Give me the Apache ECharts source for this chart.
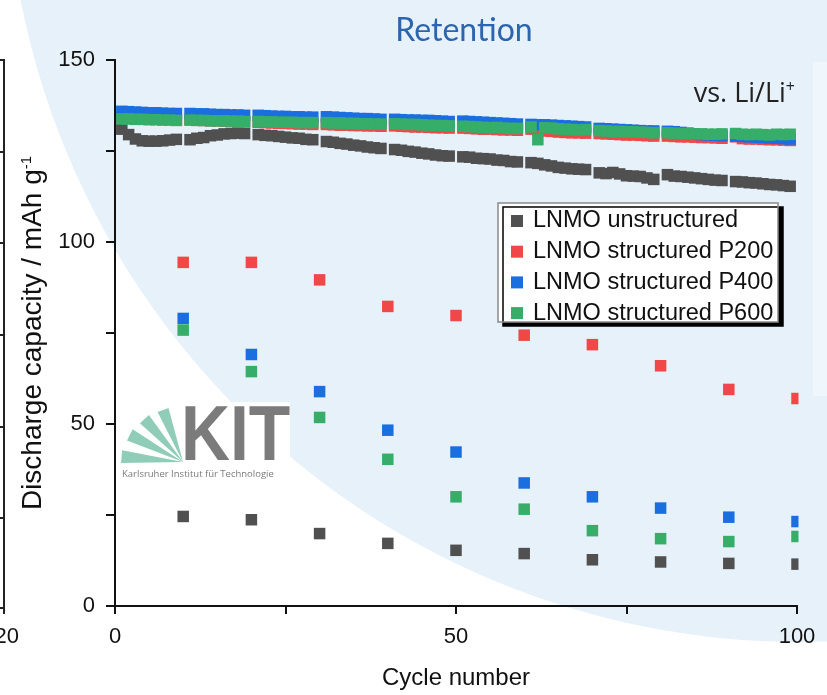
<!DOCTYPE html>
<html>
<head>
<meta charset="utf-8">
<script src="https://cdn.jsdelivr.net/npm/echarts@6/dist/echarts.min.js"></script>
<style>
html,body{margin:0;padding:0;background:#fff;}
#chart{width:827px;height:695px;}
</style>
</head>
<body>
<div id="chart"></div>
<script>
// ---- data (cycle 1..100; every 10th cycle is the high-rate step) ----
const cycles = Array.from({length: 100}, (_, i) => i + 1);

const unstructured = [
131.0,129.5,128.3,127.8,127.7,127.7,127.8,128.0,128.2,24.6,
128.1,128.5,128.7,129.2,129.4,129.7,129.8,129.9,129.8,23.7,
129.5,129.3,129.2,129.0,128.8,128.6,128.5,128.2,128.1,19.9,
127.6,127.4,127.1,126.9,126.6,126.4,126.1,125.9,125.7,17.2,
125.4,125.2,124.9,124.7,124.4,124.2,123.9,123.7,123.6,15.3,
123.4,123.3,123.0,122.9,122.8,122.5,122.4,122.1,122.0,14.4,
121.8,121.6,121.2,120.9,120.5,120.3,120.1,120.0,119.9,12.7,
119.0,118.8,119.1,118.7,118.2,118.1,118.0,117.6,117.2,12.1,
118.5,118.1,118.0,117.8,117.6,117.4,117.2,117.0,116.9,11.7,
116.6,116.5,116.3,116.2,116.0,115.8,115.7,115.5,115.3,11.5];

const p200 = [
134.2,134.1,134.0,134.0,133.9,133.8,133.8,133.7,133.6,94.4,
133.6,133.5,133.4,133.3,133.3,133.2,133.1,133.0,133.0,94.4,
132.9,132.8,132.7,132.6,132.6,132.5,132.4,132.4,132.3,89.6,
132.3,132.2,132.1,132.1,132.0,132.0,131.9,131.9,131.8,82.3,
131.9,131.8,131.7,131.6,131.6,131.5,131.4,131.4,131.3,79.8,
131.3,131.2,131.1,131.0,131.0,130.9,130.8,130.8,130.7,74.4,
131.0,130.6,130.5,130.4,130.2,130.1,130.0,130.0,129.9,71.8,
129.8,129.7,129.6,129.5,129.4,129.4,129.3,129.2,129.1,66.0,
129.1,129.0,128.9,128.9,128.8,128.7,128.7,128.6,128.5,59.5,
128.9,128.4,128.3,128.3,128.2,128.1,128.1,128.0,127.9,57.0];

const p400 = [
135.9,135.8,135.7,135.6,135.5,135.5,135.4,135.3,135.3,79.0,
135.3,135.2,135.2,135.1,135.0,135.0,134.9,134.9,134.8,69.1,
134.8,134.7,134.6,134.5,134.5,134.4,134.4,134.3,134.3,58.9,
134.4,134.3,134.2,134.1,134.0,133.9,133.9,133.8,133.7,48.3,
133.7,133.6,133.5,133.5,133.4,133.4,133.3,133.2,133.1,42.3,
133.2,133.1,133.0,132.9,132.8,132.7,132.6,132.5,132.4,33.8,
132.3,132.2,132.2,132.1,132.0,131.9,131.8,131.7,131.6,30.0,
131.2,131.1,131.0,130.9,130.8,130.7,130.6,130.5,130.5,26.9,
130.4,130.3,130.1,129.9,129.7,129.5,129.4,129.3,129.2,24.4,
129.1,129.0,128.9,128.8,128.7,128.6,128.5,128.4,128.3,23.2];

const p600 = [
133.8,133.8,133.7,133.7,133.6,133.6,133.5,133.5,133.4,75.8,
133.5,133.4,133.4,133.3,133.3,133.3,133.2,133.2,133.1,64.4,
133.1,133.0,133.0,132.9,132.9,132.9,132.8,132.8,132.8,51.8,
132.8,132.7,132.7,132.6,132.6,132.5,132.5,132.4,132.4,40.3,
132.5,132.4,132.3,132.3,132.2,132.1,132.0,132.0,131.9,30.0,
131.8,131.7,131.6,131.5,131.4,131.5,131.3,131.2,131.2,26.6,
131.6,128.1,131.4,131.3,131.1,131.0,130.9,130.8,130.9,20.7,
130.6,130.5,130.4,130.4,130.3,130.3,130.2,130.1,130.0,18.5,
130.0,129.9,129.8,129.8,129.7,129.7,129.6,129.6,129.7,17.7,
129.8,129.6,129.5,129.6,129.5,129.4,129.6,129.5,129.6,19.1];

const seriesNames = ['LNMO unstructured', 'LNMO structured P200', 'LNMO structured P400', 'LNMO structured P600'];
const seriesValues = [unstructured, p200, p400, p600];
const seriesColors = ['#505050', '#f04848', '#1a6ee0', '#36ad68'];
const xTickLabels = [0, 50, 100];
const yTickLabels = [0, 50, 100, 150];

// ---- chart ----
const chart = echarts.init(document.getElementById('chart'), null, {renderer: 'canvas'});
const AX = '#111';
const FONT = '"Liberation Sans", Arial, sans-serif';

function kitRays() {
  const ax = 183, ay = 462, els = [];
  const rays = [[169, 181, 62], [147, 159, 60], [126, 138, 58], [105, 117, 56]];
  rays.forEach(r => {
    const a1 = r[0] * Math.PI / 180, a2 = r[1] * Math.PI / 180, L = r[2];
    els.push({
      type: 'polygon', z: 1,
      shape: {points: [[ax, ay], [ax + L * Math.cos(a1), ay - L * Math.sin(a1)], [ax + L * Math.cos(a2), ay - L * Math.sin(a2)]]},
      style: {fill: '#8fcdb9'}
    });
  });
  return els;
}

const option = {
  backgroundColor: '#ffffff',
  animation: false,
  title: {
    text: 'Retention', left: 459, top: 10, textAlign: 'center',
    textStyle: {fontFamily: 'Lato, "Open Sans", sans-serif', fontSize: 32, fontWeight: 'normal', color: '#2c64ae'}
  },
  grid: {left: 115, right: 30, top: 60, bottom: 87, containLabel: false},
  legend: {
    orient: 'vertical', left: 511, top: 209, padding: 0,
    itemWidth: 12, itemHeight: 12, itemGap: 6.7, icon: 'rect',
    textStyle: {fontFamily: FONT, fontSize: 23.5, color: '#111', lineHeight: 22, padding: [0, 0, 0, 5]},
    data: seriesNames
  },
  xAxis: [{
    type: 'value', min: 0, max: 100, interval: 25, position: 'bottom',
    axisLine: {lineStyle: {color: AX, width: 2}},
    axisTick: {inside: false, length: 8, lineStyle: {color: AX, width: 2}},
    axisLabel: {margin: 20, fontFamily: FONT, fontSize: 22, color: '#111',
      formatter: v => xTickLabels.includes(v) ? String(v) : ''},
    splitLine: {show: false},
    name: 'Cycle number', nameLocation: 'middle', nameGap: 60,
    nameTextStyle: {fontFamily: FONT, fontSize: 24, color: '#111'}
  }, {
    type: 'value', min: 0, max: 100, interval: 25, position: 'top',
    axisLine: {lineStyle: {color: AX, width: 2}},
    axisTick: {inside: true, length: 8, lineStyle: {color: AX, width: 2}},
    axisLabel: {show: false}, splitLine: {show: false}
  }],
  yAxis: [{
    type: 'value', min: 0, max: 150, interval: 25, position: 'left',
    axisLine: {lineStyle: {color: AX, width: 2}},
    axisTick: {inside: false, length: 9, lineStyle: {color: AX, width: 2}},
    axisLabel: {margin: 20, fontFamily: FONT, fontSize: 22, color: '#111',
      formatter: v => yTickLabels.includes(v) ? String(v) : ''},
    splitLine: {show: false},
    name: 'Discharge capacity / mAh g{sup|-1}', nameLocation: 'middle', nameGap: 62,
    nameTextStyle: {fontFamily: FONT, fontSize: 28, color: '#111',
      rich: {sup: {fontFamily: FONT, fontSize: 15, color: '#111', padding: [0, 0, 14, 0]}}}
  }, {
    type: 'value', min: 0, max: 150, interval: 25, position: 'right',
    axisLine: {lineStyle: {color: AX, width: 2}},
    axisTick: {inside: true, length: 8, lineStyle: {color: AX, width: 2}},
    axisLabel: {show: false}, splitLine: {show: false}
  }],
  series: seriesNames.map((name, k) => ({
    name: name, type: 'scatter', xAxisIndex: 0, yAxisIndex: 0,
    symbol: 'rect', symbolSize: 11.5, clip: false, z: 2,
    itemStyle: {color: seriesColors[k], opacity: 1},
    data: cycles.map((c, i) => [c, seriesValues[k][i]])
  })),
  graphic: {elements: [
    // slide background shapes
    {type: 'circle', z: -10, silent: true, shape: {cx: 800, cy: -152, r: 794}, style: {fill: '#e6f1fa'}},
    // cover right of frame (clips the cycle-100 markers at the frame)
    {type: 'rect', z: 2.5, silent: true, shape: {x: 798.5, y: 55, width: 30, height: 556}, style: {fill: '#e6f1fa'}},
    {type: 'rect', z: 2.6, silent: true, shape: {x: 813, y: 62, width: 14, height: 334}, style: {fill: '#eff6fc'}},
    // neighbouring plot edge on the far left
    {type: 'line', z: 1, silent: true, shape: {x1: 4, y1: 59, x2: 4, y2: 614}, style: {stroke: '#222', lineWidth: 2}},
    {type: 'line', z: 1, silent: true, shape: {x1: 0, y1: 60, x2: 4, y2: 60}, style: {stroke: '#222', lineWidth: 2}},
    {type: 'line', z: 1, silent: true, shape: {x1: 0, y1: 608, x2: 4, y2: 608}, style: {stroke: '#222', lineWidth: 2}},
    ...[152, 243, 335, 427, 518].map(y => ({type: 'line', z: 1, silent: true, shape: {x1: 0, y1: y, x2: 4, y2: y}, style: {stroke: '#222', lineWidth: 2}})),
    {type: 'text', z: 1, silent: true, x: 19, y: 637, style: {text: '120', fontFamily: FONT, fontSize: 22, fill: '#111', align: 'right', verticalAlign: 'middle'}},
    // vs. Li/Li+
    {type: 'text', z: 3, silent: true, x: 795, y: 94, style: {
      text: '{a|vs. Li/Li}{b|+}', align: 'right', verticalAlign: 'middle',
      rich: {a: {fontFamily: '"Open Sans", sans-serif', fontSize: 27, fill: '#222'},
             b: {fontFamily: '"Open Sans", sans-serif', fontSize: 16, fill: '#222', padding: [0, 0, 13, 0]}}}},
    // legend box with hard shadow
    {type: 'rect', z: 3, silent: true, shape: {x: 498, y: 203, width: 280, height: 119},
      style: {fill: '#ffffff', stroke: '#8a8a8a', lineWidth: 1.5, shadowColor: '#000', shadowBlur: 0, shadowOffsetX: 5, shadowOffsetY: 4}},
    // KIT logo
    {type: 'rect', z: 0.5, silent: true, shape: {x: 118, y: 402, width: 172, height: 80}, style: {fill: '#ffffff'}},
    ...kitRays(),
    {type: 'text', z: 1, silent: true, x: 181, y: 477, scaleX: 0.87, style: {text: 'KIT', fontFamily: FONT, fontWeight: 'bold', fontSize: 78, fill: '#7b7b7b', align: 'left', verticalAlign: 'bottom'}},
    {type: 'text', z: 1, silent: true, x: 122, y: 474, style: {text: 'Karlsruher Institut für Technologie', fontFamily: '"Open Sans", sans-serif', fontSize: 9.5, fill: '#7a7a7a', align: 'left', verticalAlign: 'middle'}}
  ]}
};
chart.setOption(option);
</script>
</body>
</html>
